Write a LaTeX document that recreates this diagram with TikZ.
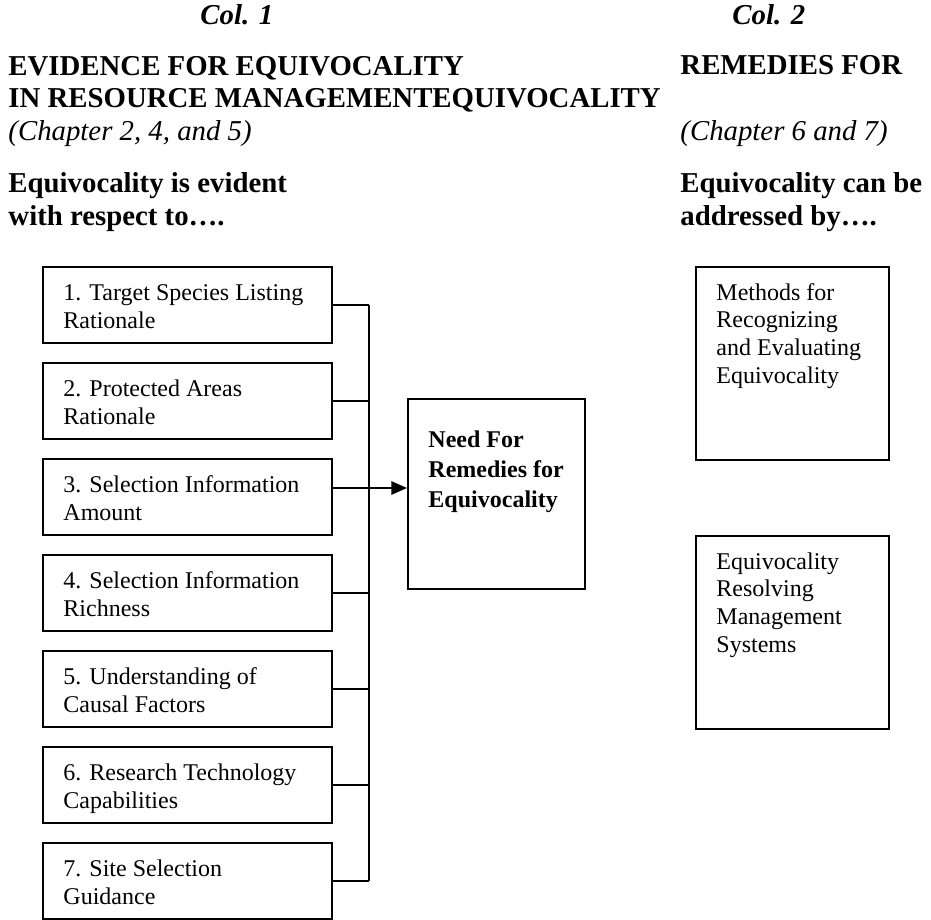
\documentclass[tikz,border=0pt]{standalone}
\usepackage{fontspec}
\setmainfont{Liberation Serif}
\usetikzlibrary{arrows.meta,calc}
\def\pxu{0.41667pt}
\begin{document}
\begin{tikzpicture}[x=0.41667pt, y=-0.41667pt,
  box/.style={draw, line width=0.8pt, inner sep=0, anchor=north west},
  leftbox/.style={box, minimum width=289*\pxu, minimum height=76*\pxu},
  rightbox/.style={box, minimum width=193*\pxu, minimum height=193*\pxu},
  % multi-line texts are placed by the baseline of their last line
  boxtext/.style={anchor=base west, inner sep=0, align=left,
    font=\fontsize{10}{11.6}\selectfont},
  sidetext/.style={anchor=base west, inner sep=0, align=left,
    font=\fontsize{10}{11.5}\selectfont},
  centertext/.style={anchor=base west, inner sep=0, align=left,
    font=\fontsize{10}{12.3}\selectfont\bfseries},
  head/.style={anchor=base west, inner sep=0, align=left,
    font=\fontsize{12}{13.6}\selectfont\bfseries},
  chap/.style={anchor=base west, inner sep=0,
    font=\fontsize{12}{13.6}\selectfont\itshape},
  colhead/.style={anchor=base west, inner sep=0,
    font=\fontsize{12}{13.6}\selectfont\bfseries\itshape},
  link/.style={line width=0.8pt},
  arrowlink/.style={line width=0.8pt, -{Triangle[length=6.5pt,width=5.5pt]}}]

\useasboundingbox (0,0) rectangle (931,919);

% column headings
\node[colhead] (col1) at (200,25) {Col. 1};
\node[colhead] (col2) at (732,25) {Col. 2};

\node[head] (ev) at (8,108) {EVIDENCE FOR EQUIVOCALITY\\IN RESOURCE MANAGEMENTEQUIVOCALITY};
\node[head] (rem) at (680,75) {REMEDIES FOR};
\node[chap] (ch1) at (8,140) {(Chapter 2, 4, and 5)};
\node[chap] (ch2) at (680,140) {(Chapter 6 and 7)};
\node[head] (q1) at (8,225) {Equivocality is evident\\with respect to….};
\node[head] (q2) at (680,225) {Equivocality can be\\addressed by….};

% column 1 boxes
\foreach \i/\ta/\tb in {1/1. Target Species Listing/Rationale,
                        2/2. Protected Areas/Rationale,
                        3/3. Selection Information/Amount,
                        4/4. Selection Information/Richness,
                        5/5. Understanding of/Causal Factors,
                        6/6. Research Technology/Capabilities,
                        7/7. Site Selection/Guidance}{
  \pgfmathsetmacro{\top}{266+96*(\i-1)}
  \node[leftbox] (b\i) at (42,\top) {};
  \node[boxtext] (t\i) at (63,\top+62) {\ta\\\tb};
}

% central box
\node[box, minimum width=177*\pxu, minimum height=190*\pxu] (need) at (407,398) {};
\node[centertext] (needtxt) at (428,507) {Need For\\Remedies for\\Equivocality};

% column 2 boxes
\node[rightbox] (r1) at (695,266) {};
\node[sidetext] (rt1) at (716,383) {Methods for\\Recognizing\\and Evaluating\\Equivocality};
\node[rightbox] (r2) at (695,535) {};
\node[sidetext] (rt2) at (716,652) {Equivocality\\Resolving\\Management\\Systems};

% connectors
\coordinate (trunk) at (369,0);
\coordinate (arrowlevel) at (0,488);
\foreach \i in {1,2,4,5,6,7}{
  \draw[link] (b\i.east) -- (b\i.east -| trunk);
}
\draw[link] (b1.east -| trunk) -- (b7.east -| trunk);
\draw[arrowlink] (b3.east |- arrowlevel) -- (need.west |- arrowlevel);

\end{tikzpicture}
\end{document}
